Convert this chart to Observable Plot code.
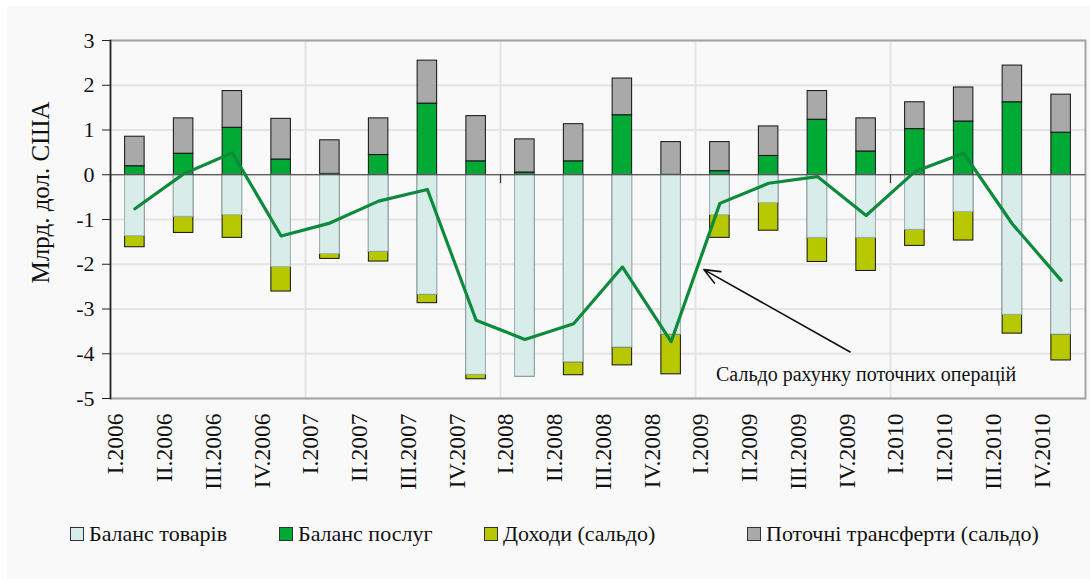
<!DOCTYPE html>
<html><head><meta charset="utf-8">
<script src="https://cdn.jsdelivr.net/npm/d3@7"></script>
<script src="https://cdn.jsdelivr.net/npm/@observablehq/plot@0.6"></script>
<style>
body{margin:0;background:#fff;font-family:"Liberation Serif","Times New Roman",Times,serif;}
#wrap{position:relative;width:1090px;height:579px;overflow:hidden;}
#panel{position:absolute;left:7px;top:6px;width:1083px;height:573px;background:#f9f9f9;}
#chart{position:absolute;left:0;top:0;}
#legend{position:absolute;top:522px;left:0;width:1090px;height:24px;font-size:22px;color:#111;}
.item{position:absolute;top:0;display:flex;align-items:center;white-space:nowrap;height:24px;}
.sw{width:14px;height:14px;border:1px solid #333;margin-right:5px;box-sizing:border-box;}
svg text{font-family:"Liberation Serif","Times New Roman",Times,serif;}
</style></head>
<body>
<div id="wrap"><div id="panel"></div><div id="chart"></div><div id="legend"></div></div>
<script>
const quarters = ["I.2006","II.2006","III.2006","IV.2006","I.2007","II.2007","III.2007","IV.2007",
  "I.2008","II.2008","III.2008","IV.2008","I.2009","II.2009","III.2009","IV.2009",
  "I.2010","II.2010","III.2010","IV.2010"];
const goods     = [-1.37,-0.94,-0.90,-2.06,-1.77,-1.72,-2.68,-4.47,-4.51,-4.19,-3.86,-3.57,-0.90,-0.63,-1.41,-1.41,-1.23,-0.83,-3.13,-3.57];
const services  = [0.19,0.47,1.05,0.34,0.02,0.44,1.59,0.30,0.05,0.30,1.33,0.00,0.08,0.42,1.23,0.52,1.02,1.19,1.62,0.94];
const income    = [-0.25,-0.36,-0.51,-0.55,-0.11,-0.22,-0.19,-0.10,0.00,-0.29,-0.40,-0.89,-0.51,-0.62,-0.54,-0.74,-0.36,-0.64,-0.42,-0.58];
const transfers = [0.66,0.79,0.82,0.91,0.75,0.82,0.96,1.01,0.74,0.83,0.82,0.73,0.65,0.66,0.64,0.74,0.60,0.76,0.82,0.85];
const balance   = [-0.76,0.02,0.49,-1.37,-1.08,-0.59,-0.33,-3.25,-3.68,-3.33,-2.06,-3.73,-0.64,-0.19,-0.04,-0.91,0.07,0.48,-1.10,-2.36];
const seriesNames  = ["Баланс товарів","Баланс послуг","Доходи (сальдо)","Поточні трансферти (сальдо)"];
const seriesColors = ["#d8ecea","#00aa34","#b8c800","#a9a9a9"];
const yTicks = [-5,-4,-3,-2,-1,0,1,2,3];
const yearStarts = ["I.2007","I.2008","I.2009","I.2010"];
const axisMarks = ["I.2006","I.2008","I.2010"];
const yLabel = "Млрд. дол. США";
const annotationText = "Сальдо рахунку поточних операцій";
const annotation = {fromQ: "IV.2009", fromY: -3.96, toQ: "I.2009", toY: -2.12, textQ: "IV.2009", textY: -4.47};

const seriesValues = [goods, services, income, transfers];
const rows = quarters.flatMap((q, i) => seriesNames.map((s, j) => ({quarter: q, series: s, value: seriesValues[j][i]})));
const goodsRows = rows.filter(r => r.series === seriesNames[0]);

const W = 1090, H = 505, mL = 110, mR = 5, mT = 40, mB = 107;
const step = (W - mL - mR) / quarters.length;
const serif = "'Liberation Serif', 'Times New Roman', Times, serif";

const plot = Plot.plot({
  width: W, height: H,
  marginLeft: mL, marginRight: mR, marginTop: mT, marginBottom: mB,
  style: `background: transparent; font-family: ${serif}; color: #111; overflow: visible;`,
  x: {domain: quarters, paddingInner: 0.6, paddingOuter: 0.3, round: false, label: null},
  y: {domain: [-5, 3], label: null},
  color: {domain: seriesNames, range: seriesColors},
  marks: [
    Plot.ruleY(yTicks, {stroke: "#e4e4e4", strokeWidth: 2}),
    Plot.ruleX(yearStarts, {x: d => d, dx: -step / 2, stroke: "#e4e4e4", strokeWidth: 2}),
    Plot.frame({stroke: "#a3a3a3", strokeWidth: 2}),
    Plot.barY(rows, {x: "quarter", y: "value", fill: "series", stroke: "#111", strokeWidth: 1}),
    Plot.barY(goodsRows, {x: "quarter", y1: 0, y2: "value", fill: seriesColors[0], stroke: "#a6bcbc", strokeWidth: 1}),
    Plot.ruleY([0], {stroke: "#333", strokeWidth: 1.2}),
    Plot.ruleX(axisMarks, {x: d => d, dx: -step / 2, y1: 0, y2: -0.2, stroke: "#333", strokeWidth: 1.2}),
    Plot.line(quarters, {x: d => d, y: (d, i) => balance[i], stroke: "#0d8a3c", strokeWidth: 3.2}),
    Plot.arrow([annotation], {x1: "fromQ", y1: "fromY", x2: "toQ", y2: "toY", dx: -16, stroke: "#111", strokeWidth: 1.6, headLength: 16, headAngle: 45}),
    Plot.text([annotation], {x: "textQ", y: "textY", text: () => annotationText, fontSize: 20, fill: "#111"}),
    Plot.axisY({ticks: yTicks, tickSize: 8, tickPadding: 8, fontSize: 22, tickFormat: d => String(d), label: null, stroke: "#222"}),
    Plot.axisX({tickRotate: -90, tickSize: 0, tickPadding: 15, fontSize: 23.5, dx: -19, label: null}),
    Plot.frame({anchor: "left", stroke: "#222", strokeWidth: 1.5}),
    Plot.text([yLabel], {frameAnchor: "left", textAnchor: "middle", rotate: -90, dx: -70, dy: -27, fontSize: 25, fill: "#111"})
  ]
});
document.getElementById("chart").appendChild(plot);

const legendLefts = [70, 279, 484, 747];
const legend = document.getElementById("legend");
seriesNames.forEach((s, j) => {
  const item = document.createElement("div");
  item.className = "item";
  item.style.left = legendLefts[j] + "px";
  const sw = document.createElement("span");
  sw.className = "sw";
  sw.style.background = seriesColors[j];
  const t = document.createElement("span");
  t.textContent = s;
  item.appendChild(sw); item.appendChild(t);
  legend.appendChild(item);
});
</script>
</body></html>
